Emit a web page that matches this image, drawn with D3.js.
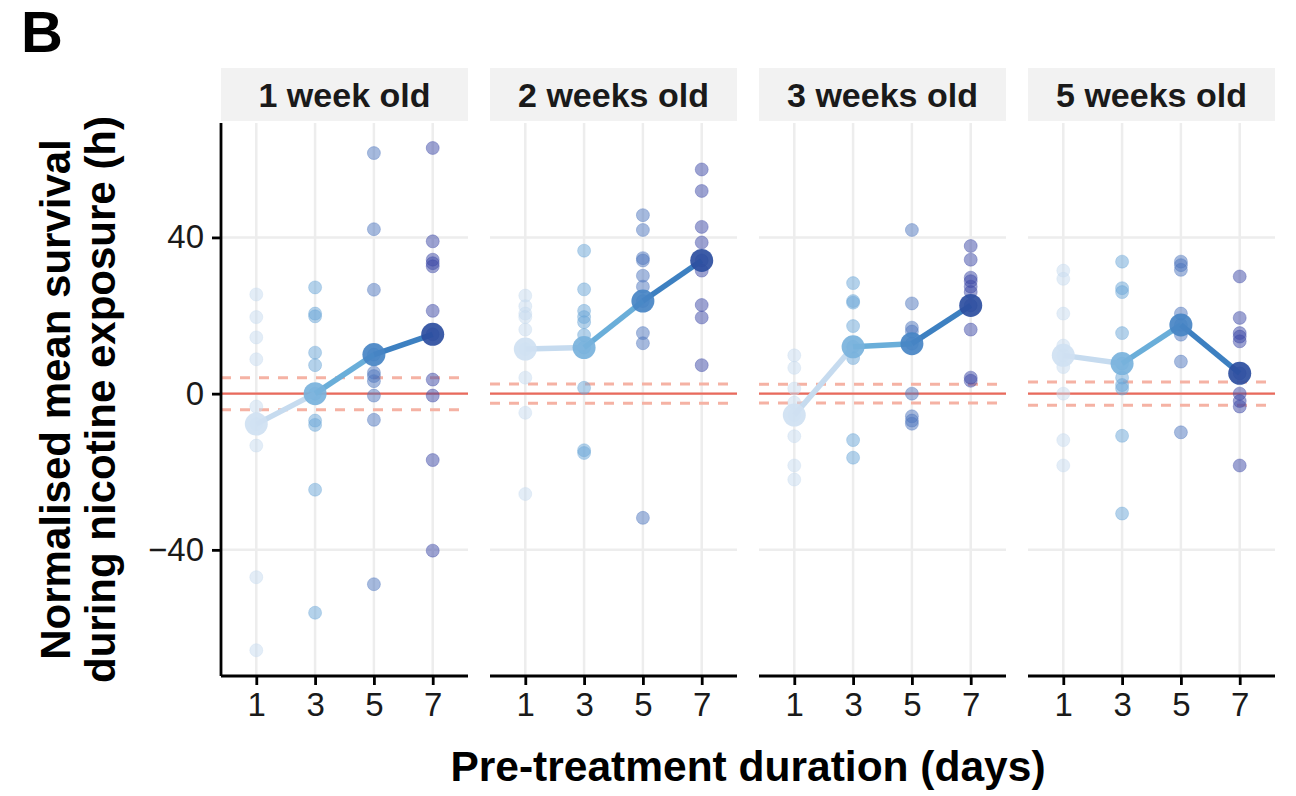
<!DOCTYPE html>
<html>
<head>
<meta charset="utf-8">
<script src="https://cdn.jsdelivr.net/npm/d3@7"></script>
<style>
  html, body { margin: 0; padding: 0; background: #ffffff; }
  svg { display: block; }
  text { font-family: "Liberation Sans", Arial, Helvetica, sans-serif; }
</style>
</head>
<body>
<svg id="chart" width="1296" height="796"></svg>
<script>
// ---------------- DATA ----------------
const panelLabels = ["1 week old", "2 weeks old", "3 weeks old", "5 weeks old"];
const days = [1, 3, 5, 7];
const yTicks = [-40, 0, 40];

// individual values, one array per pre-treatment duration (1, 3, 5, 7 days)
const pts1wk = [
  [25.4, 19.6, 14.4, 8.8, -3.3, -7.8, -13.3, -47.0, -65.7],
  [27.2, 20.5, 19.8, 10.5, 7.3, 0.0, -6.9, -8.0, -24.6, -56.1],
  [61.6, 42.1, 26.6, 10.0, 5.4, 4.5, 3.2, -0.5, -6.7, -48.8],
  [62.9, 39.0, 34.3, 33.4, 32.6, 21.2, 15.2, 3.6, -0.5, -17.0, -40.2]
];
const pts2wk = [
  [25.1, 22.4, 20.5, 19.6, 16.4, 11.4, 4.1, -4.9, -25.7],
  [36.6, 26.7, 21.2, 19.6, 18.3, 15.0, 11.8, 1.5, -14.5, -15.2],
  [45.7, 41.9, 34.7, 34.1, 30.2, 27.4, 23.7, 15.5, 12.9, -31.8],
  [57.4, 51.9, 42.7, 38.7, 34.1, 31.5, 22.7, 19.5, 7.3]
];
const pts3wk = [
  [9.8, 6.6, 1.3, -2.3, -5.5, -10.9, -18.4, -22.0],
  [28.3, 23.7, 23.3, 17.3, 12.0, 9.1, -11.9, -16.4],
  [41.9, 23.1, 16.9, 15.9, 12.8, 0.0, -5.8, -6.9, -7.7],
  [37.8, 34.3, 29.7, 28.8, 27.4, 26.0, 22.6, 16.4, 4.1, 3.3]
];
const pts5wk = [
  [31.5, 29.4, 20.5, 12.3, 9.8, 6.8, 0.0, -11.9, -18.4],
  [33.8, 27.0, 26.0, 15.5, 7.7, 4.1, 2.2, 1.3, -10.8, -30.7],
  [33.8, 32.9, 31.7, 20.5, 17.6, 15.1, 8.2, -9.9],
  [30.0, 19.4, 15.5, 14.6, 13.4, 5.2, 0.0, -1.9, -3.3, -18.4]
];
// group means per panel (days 1, 3, 5, 7)
const means1wk = [-7.8, 0.0, 10.0, 15.2];
const means2wk = [11.4, 11.8, 23.7, 34.1];
const means3wk = [-5.5, 12.0, 12.8, 22.6];
const means5wk = [9.8, 7.7, 17.6, 5.2];
// +/- band around the control (dashed lines)
const controlBand = [4.1, 2.45, 2.4, 2.95];

const allPoints = [pts1wk, pts2wk, pts3wk, pts5wk];
const allMeans = [means1wk, means2wk, means3wk, means5wk];

// ---------------- STYLE ----------------
const pointColors = ["#c7dbef", "#6aa6d8", "#4d76be", "#3b48a6"];
const meanColors  = ["#cfe1f2", "#78b2dc", "#4784c4", "#2c4e9f"];
const lineColors  = ["#c6dbef", "#6aaed9", "#3d80c1"];

const svg = d3.select("#chart");
const panelW = 247, panelStep = 269, panelLeft0 = 221;
const panelTop = 123, panelBottom = 676;
const stripTop = 68, stripBottom = 121;

const y = d3.scaleLinear().domain([-72.3, 69.3]).range([panelBottom, panelTop]);

// panel label "B"
svg.append("text").attr("x", 21).attr("y", 52)
  .attr("font-size", 58).attr("font-weight", "bold").attr("fill", "#000").text("B");

// y-axis title (two lines)
const yt = svg.append("g").attr("transform", `translate(0, ${(panelTop + panelBottom) / 2}) rotate(-90)`);
yt.append("text").attr("x", 0).attr("y", 70).attr("text-anchor", "middle")
  .attr("font-size", 42).attr("font-weight", "bold").attr("fill", "#000").text("Normalised mean survival");
yt.append("text").attr("x", 0).attr("y", 115).attr("text-anchor", "middle")
  .attr("font-size", 42).attr("font-weight", "bold").attr("fill", "#000").text("during nicotine exposure (h)");

// x-axis title
svg.append("text").attr("x", (panelLeft0 + 3 * panelStep + panelW + panelLeft0) / 2).attr("y", 781)
  .attr("text-anchor", "middle").attr("font-size", 42.5).attr("font-weight", "bold").attr("fill", "#000")
  .text("Pre-treatment duration (days)");

panelLabels.forEach((label, i) => {
  const x0 = panelLeft0 + i * panelStep;
  const x = d3.scalePoint().domain(days).range([x0, x0 + panelW]).padding(0.6);
  const g = svg.append("g");

  // strip
  g.append("rect").attr("x", x0).attr("y", stripTop).attr("width", panelW).attr("height", stripBottom - stripTop)
    .attr("fill", "#f2f2f2");
  g.append("text").attr("x", x0 + panelW / 2).attr("y", (stripTop + stripBottom) / 2 + 12)
    .attr("text-anchor", "middle").attr("font-size", 34).attr("font-weight", "bold").attr("fill", "#1a1a1a")
    .text(label);

  // grid
  g.selectAll(".vg").data(days).enter().append("line")
    .attr("x1", d => x(d)).attr("x2", d => x(d)).attr("y1", panelTop).attr("y2", panelBottom)
    .attr("stroke", "#ededed").attr("stroke-width", 2.5);
  g.selectAll(".hg").data(yTicks).enter().append("line")
    .attr("x1", x0).attr("x2", x0 + panelW).attr("y1", d => y(d)).attr("y2", d => y(d))
    .attr("stroke", "#ededed").attr("stroke-width", 2.5);

  // control reference lines
  const se = controlBand[i];
  [se, -se].forEach(v => {
    g.append("line").attr("x1", x0).attr("x2", x0 + panelW).attr("y1", y(v)).attr("y2", y(v))
      .attr("stroke", "#f5b2a4").attr("stroke-width", 3).attr("stroke-dasharray", "10,9");
  });
  g.append("line").attr("x1", x0).attr("x2", x0 + panelW).attr("y1", y(0)).attr("y2", y(0))
    .attr("stroke", "#ea6a5c").attr("stroke-width", 2.4);

  // individual points
  allPoints[i].forEach((vals, di) => {
    g.selectAll(null).data(vals).enter().append("circle")
      .attr("cx", x(days[di])).attr("cy", d => y(d)).attr("r", 6.5)
      .attr("fill", pointColors[di]).attr("fill-opacity", 0.5)
      .attr("stroke", pointColors[di]).attr("stroke-opacity", 0.35).attr("stroke-width", 1);
  });

  // mean path segments coloured by start group
  const m = allMeans[i];
  for (let k = 0; k < days.length - 1; k++) {
    g.append("line")
      .attr("x1", x(days[k])).attr("y1", y(m[k]))
      .attr("x2", x(days[k + 1])).attr("y2", y(m[k + 1]))
      .attr("stroke", lineColors[k]).attr("stroke-width", 5.5).attr("stroke-linecap", "butt");
  }
  g.selectAll(null).data(m).enter().append("circle")
    .attr("cx", (d, k) => x(days[k])).attr("cy", d => y(d)).attr("r", 11.5)
    .attr("fill", (d, k) => meanColors[k]).attr("fill-opacity", 0.92);

  // x axis
  const ax = g.append("g").attr("transform", `translate(0, ${panelBottom})`)
    .call(d3.axisBottom(x).tickSize(9).tickPadding(8));
  ax.select(".domain").attr("d", `M${x0},0H${x0 + panelW}`).attr("stroke", "#000").attr("stroke-width", 2.8);
  ax.selectAll(".tick line").attr("stroke", "#000").attr("stroke-width", 2.8);
  ax.selectAll(".tick text").attr("font-size", 33).attr("fill", "#1a1a1a")
    .attr("font-family", "Liberation Sans, Arial, sans-serif");

  if (i === 0) {
    const ay = g.append("g").attr("transform", `translate(${x0}, 0)`)
      .call(d3.axisLeft(y).tickValues(yTicks).tickSize(9).tickPadding(8));
    ay.select(".domain").attr("d", `M0,${panelTop}V${panelBottom}`).attr("stroke", "#000").attr("stroke-width", 2.8);
    ay.selectAll(".tick line").attr("stroke", "#000").attr("stroke-width", 2.8);
    ay.selectAll(".tick text").attr("font-size", 33).attr("fill", "#1a1a1a")
      .attr("font-family", "Liberation Sans, Arial, sans-serif");
  }
});
</script>
</body>
</html>
